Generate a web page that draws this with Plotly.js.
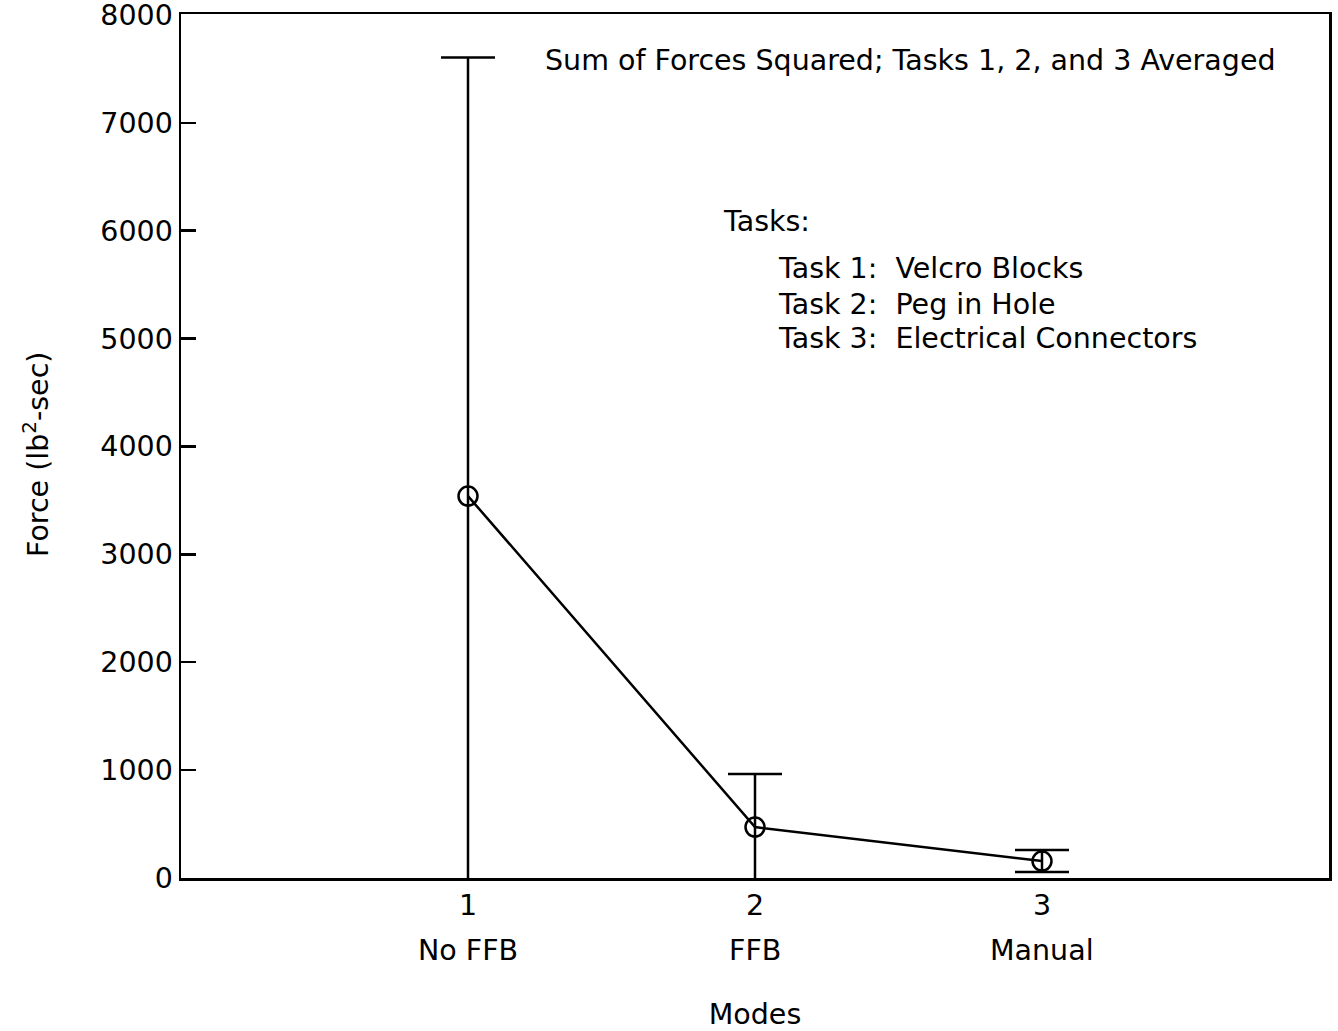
<!DOCTYPE html>
<html>
<head>
<meta charset="utf-8">
<script src="https://cdn.plot.ly/plotly-3.0.1.min.js"></script>
<style>html,body{margin:0;padding:0;background:#fff;}#chart{width:1338px;height:1031px;}</style>
</head>
<body>
<div id="chart"></div>
<script>
// Data
const modes = [1, 2, 3];
const modeNames = ["No FFB", "FFB", "Manual"];
const force = [3540, 472, 157];
const forceErr = [4065, 491, 102];
const yTicks = [0, 1000, 2000, 3000, 4000, 5000, 6000, 7000, 8000];
const titleText = "Sum of Forces Squared; Tasks 1, 2, and 3 Averaged";
const legendHeader = "Tasks:";
const taskLines = ["Task 1:  Velcro Blocks", "Task 2:  Peg in Hole", "Task 3:  Electrical Connectors"];
const yTitle = "Force (lb<sup>2</sup>-sec)";

const FONT = "DejaVu Sans, Liberation Sans, Arial, sans-serif";
const FS = 28.5;

const trace = {
  x: modes,
  y: force,
  type: "scatter",
  mode: "lines+markers",
  line: {color: "#000", width: 2.5},
  marker: {symbol: "circle-open", size: 19, color: "#000", line: {width: 2.5, color: "#000"}},
  error_y: {type: "data", array: forceErr, visible: true, color: "#000", thickness: 2.5, width: 27},
  cliponaxis: true,
  showlegend: false,
  hoverinfo: "x+y"
};

const annotations = [];
modes.forEach((m, i) => {
  annotations.push({x: m, y: 0, xref: "x", yref: "y", yshift: -72, text: modeNames[i], showarrow: false,
    font: {family: FONT, size: FS, color: "#000"}, xanchor: "center", yanchor: "middle"});
});
annotations.push({x: 543, y: 61, text: titleText, showarrow: false,
  font: {family: FONT, size: FS, color: "#000"}, xanchor: "left", yanchor: "middle"});
annotations.push({x: 721, y: 222, text: legendHeader, showarrow: false,
  font: {family: FONT, size: FS, color: "#000"}, xanchor: "left", yanchor: "middle"});
const taskY = [269, 304, 338];
taskLines.forEach((t, i) => {
  annotations.push({x: 776, y: taskY[i], text: t, showarrow: false,
    font: {family: FONT, size: FS, color: "#000"}, xanchor: "left", yanchor: "middle"});
});
annotations.push({x: 36, y: 455, text: yTitle, textangle: -90, showarrow: false,
  font: {family: FONT, size: FS, color: "#000"}, xanchor: "center", yanchor: "middle"});

// convert pixel-positioned text annotations to paper coords
const W = 1338, H = 1031, ML = 181, MR = 9, MT = 14, MB = 153;
const PW = W - ML - MR, PH = H - MT - MB;
annotations.forEach(a => {
  if (a.xref === "x") return;
  a.xref = "paper"; a.yref = "paper";
  a.x = (a.x - ML) / PW;
  a.y = 1 - (a.y - MT) / PH;
});

const layout = {
  width: W, height: H,
  margin: {l: ML, r: MR, t: MT, b: MB},
  paper_bgcolor: "#fff", plot_bgcolor: "#fff",
  font: {family: FONT, size: FS, color: "#000"},
  xaxis: {
    range: [0, 4], tickvals: modes, ticktext: modes.map(String),
    showgrid: false, zeroline: false, showline: true, mirror: true, linecolor: "#000", linewidth: 2.5,
    ticks: "inside", ticklen: 0, tickcolor: "#000",
    tickfont: {family: FONT, size: FS, color: "#000"},
    title: {text: "Modes", font: {family: FONT, size: FS, color: "#000"}, standoff: 92},
    automargin: false
  },
  yaxis: {
    range: [0, 8008], tickvals: yTicks, ticktext: yTicks.map(String),
    showgrid: false, zeroline: false, showline: true, mirror: true, linecolor: "#000", linewidth: 2.5,
    ticks: "inside", ticklen: 15, tickwidth: 2.5, tickcolor: "#000",
    tickfont: {family: FONT, size: FS, color: "#000"},
    ticklabeloverflow: "allow",
    automargin: false
  },
  annotations: annotations
};

Plotly.newPlot("chart", [trace], layout, {displayModeBar: false, staticPlot: true});
</script>
</body>
</html>
